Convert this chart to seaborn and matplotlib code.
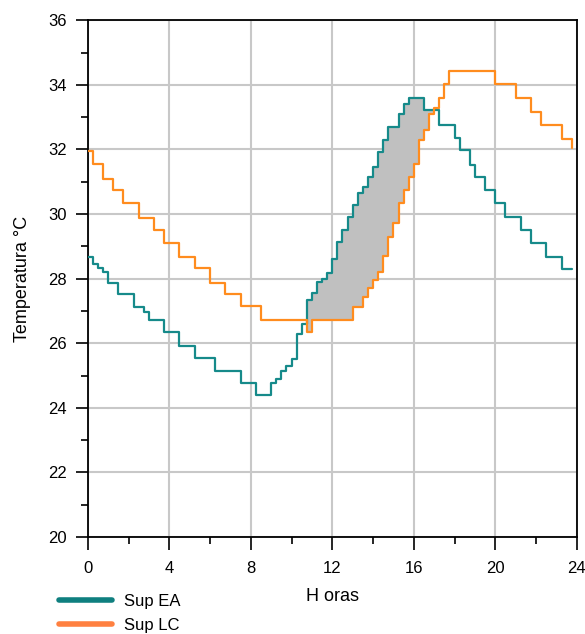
import numpy as np
import matplotlib
matplotlib.use("Agg")
import matplotlib.pyplot as plt
import seaborn as sns
import pandas as pd
from matplotlib.lines import Line2D

# 15-minute samples, 0 .. 23.75 h
hours = [i * 0.25 for i in range(96)]

sup_ea = [
    28.67, 28.45, 28.32, 28.20, 27.87, 27.87, 27.52, 27.52,   # 0-1.75
    27.52, 27.13, 27.13, 26.97, 26.71, 26.71, 26.71, 26.35,   # 2-3.75
    26.35, 26.35, 25.91, 25.91, 25.91, 25.55, 25.55, 25.55,   # 4-5.75
    25.55, 25.15, 25.15, 25.15, 25.15, 25.15, 24.76, 24.76,   # 6-7.75
    24.76, 24.39, 24.39, 24.39, 24.76, 24.90, 25.15, 25.30,   # 8-9.75
    25.50, 26.30, 26.60, 27.33, 27.54, 27.90, 28.00, 28.16,   # 10-11.75
    28.60, 29.14, 29.50, 29.91, 30.27, 30.64, 30.84, 31.15,   # 12-13.75
    31.46, 31.92, 32.29, 32.70, 32.70, 33.11, 33.42, 33.58,   # 14-15.75
    33.58, 33.58, 33.21, 33.21, 33.21, 32.75, 32.75, 32.75,   # 16-17.75
    32.34, 31.98, 31.98, 31.51, 31.15, 31.15, 30.74, 30.74,   # 18-19.75
    30.33, 30.33, 29.91, 29.91, 29.91, 29.50, 29.50, 29.11,   # 20-21.75
    29.11, 29.11, 28.67, 28.67, 28.67, 28.31, 28.31, 28.31,   # 22-23.75
]

sup_lc = [
    31.95, 31.56, 31.56, 31.10, 31.10, 30.74, 30.74, 30.33,   # 0-1.75
    30.33, 30.33, 29.89, 29.89, 29.89, 29.52, 29.52, 29.09,   # 2-3.75
    29.09, 29.09, 28.67, 28.67, 28.67, 28.32, 28.32, 28.32,   # 4-5.75
    27.87, 27.87, 27.87, 27.52, 27.52, 27.52, 27.15, 27.15,   # 6-7.75
    27.15, 27.15, 26.71, 26.71, 26.71, 26.71, 26.71, 26.71,   # 8-9.75
    26.71, 26.71, 26.71, 26.35, 26.71, 26.71, 26.71, 26.71,   # 10-11.75
    26.71, 26.71, 26.71, 26.71, 27.13, 27.13, 27.44, 27.70,   # 12-13.75
    27.95, 28.20, 28.70, 29.30, 29.71, 30.33, 30.74, 31.15,   # 14-15.75
    31.56, 32.29, 32.60, 33.11, 33.27, 33.58, 34.04, 34.43,   # 16-17.75
    34.43, 34.43, 34.43, 34.43, 34.43, 34.43, 34.43, 34.43,   # 18-19.75
    34.04, 34.04, 34.04, 34.04, 33.58, 33.58, 33.58, 33.16,   # 20-21.75
    33.16, 32.75, 32.75, 32.75, 32.75, 32.31, 32.31, 32.03,   # 22-23.75
]

series_names = ["Sup EA", "Sup LC"]
x_ticks = [0, 4, 8, 12, 16, 20, 24]
y_ticks = [20, 22, 24, 26, 28, 30, 32, 34, 36]

teal = "#168a8a"
orange = "#ff8c1e"

sns.set_theme(style="white")
plt.rcParams["font.family"] = ["Liberation Sans", "DejaVu Sans"]
plt.rcParams["text.color"] = "black"
plt.rcParams["axes.labelcolor"] = "black"
plt.rcParams["xtick.color"] = "black"
plt.rcParams["ytick.color"] = "black"

df = pd.DataFrame({"Horas": hours * 2,
                   "Temp": sup_ea + sup_lc,
                   "Serie": [series_names[0]] * len(hours) + [series_names[1]] * len(hours)})

fig = plt.figure(figsize=(5.85, 6.34), dpi=100)
ax = fig.add_axes([0.150, 0.153, 0.836, 0.815])

ea = np.array(sup_ea)
lc = np.array(sup_lc)
ax.fill_between(hours, np.minimum(ea, lc), ea, step="post",
                color="#c0c0c0", linewidth=0, zorder=2)

sns.lineplot(data=df, x="Horas", y="Temp", hue="Serie",
             palette=[teal, orange], drawstyle="steps-post",
             linewidth=1.6, ax=ax, legend=False, zorder=3)

ax.set_xlim(0, 24)
ax.set_ylim(20, 36)
ax.set_xticks(x_ticks)
ax.set_yticks(y_ticks)
ax.set_xticks([2, 6, 10, 14, 18, 22], minor=True)
ax.set_yticks([21, 23, 25, 27, 29, 31, 33, 35], minor=True)
ax.grid(True, which="major", color="#c8c8c8", linewidth=1.5, zorder=0)
ax.set_axisbelow(True)
for s in ax.spines.values():
    s.set_color("black")
    s.set_linewidth(1.3)
ax.tick_params(which="major", direction="out", length=9, width=1.2,
               labelsize=12, pad=6, left=True, bottom=True)
ax.tick_params(which="minor", direction="out", length=5, width=1.2,
               left=True, bottom=True)
ax.tick_params(axis="x", which="major", pad=8)
ax.set_xlabel("H oras", fontsize=13, labelpad=9)
ax.set_ylabel("Temperatura °C", fontsize=13, labelpad=12)

handles = [Line2D([], [], color="#0f7f7f", linewidth=4),
           Line2D([], [], color="#ff8040", linewidth=4)]
fig.legend(handles, series_names, loc="lower left",
           bbox_to_anchor=(0.075, -0.022), frameon=False, fontsize=12,
           handlelength=3.2, handletextpad=0.7, labelspacing=0.55)

fig.savefig("out.png", dpi=100)
